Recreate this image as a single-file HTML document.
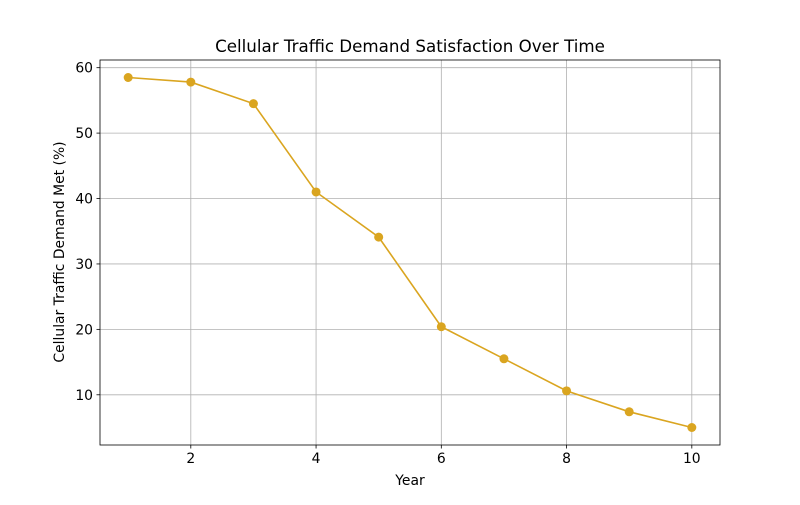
<!DOCTYPE html>
<html><head><meta charset="utf-8"><style>
body{margin:0;background:#fff;}
svg{font-family:"DejaVu Sans","Liberation Sans",sans-serif;}
</style></head><body>
<svg id="chart" width="800" height="500" xmlns="http://www.w3.org/2000/svg"></svg>
<script>
const years = [1,2,3,4,5,6,7,8,9,10];
const demandMet = [58.5,57.8,54.5,41.0,34.1,20.4,15.5,10.6,7.4,5.0];
const xTicks = [2,4,6,8,10];
const yTicks = [10,20,30,40,50,60];

const NS="http://www.w3.org/2000/svg";
const svg=document.getElementById('chart');
const L=100,R=720,T=60,B=445;
const xmin=Math.min(...years),xmax=Math.max(...years),xm=(xmax-xmin)*0.05;
const ymin=Math.min(...demandMet),ymax=Math.max(...demandMet),ym=(ymax-ymin)*0.05;
const x0=xmin-xm,x1=xmax+xm,y0=ymin-ym,y1=ymax+ym;
const sx=v=>L+(v-x0)/(x1-x0)*(R-L);
const sy=v=>B-(v-y0)/(y1-y0)*(B-T);
function el(tag,attrs,name,text){
  const e=document.createElementNS(NS,tag);
  for(const k in attrs)e.setAttribute(k,attrs[k]);
  
  
  if(text!==undefined)e.textContent=text;
  svg.appendChild(e);return e;
}
xTicks.forEach(t=>{
  const x=sx(t);
  el('line',{x1:x,x2:x,y1:T,y2:B,stroke:'#b0b0b0','stroke-width':0.8},'x-gridline');
  el('line',{x1:x,x2:x,y1:B,y2:B+3.5,stroke:'#000','stroke-width':0.8},'x-tick');
  el('text',{x:x,y:B+18,'text-anchor':'middle','font-size':13.9},'x-tick-label',t);
});
yTicks.forEach(t=>{
  const y=sy(t);
  el('line',{x1:L,x2:R,y1:y,y2:y,stroke:'#b0b0b0','stroke-width':0.8},'y-gridline');
  el('line',{x1:L-3.5,x2:L,y1:y,y2:y,stroke:'#000','stroke-width':0.8},'y-tick');
  el('text',{x:L-7,y:y+5,'text-anchor':'end','font-size':13.9},'y-tick-label',t);
});
el('polyline',{points:years.map((v,i)=>sx(v)+','+sy(demandMet[i])).join(' '),fill:'none',stroke:'#daa520','stroke-width':1.6},'series-line');
years.forEach((v,i)=>{
  el('circle',{cx:sx(v),cy:sy(demandMet[i]),r:4.5,fill:'#daa520'},'data-point');
});
el('rect',{x:L,y:T,width:R-L,height:B-T,fill:'none',stroke:'#000','stroke-width':0.8},'plot-frame');
el('text',{x:410,y:52,'text-anchor':'middle','font-size':16.7},'chart-title','Cellular Traffic Demand Satisfaction Over Time');
el('text',{x:410,y:485,'text-anchor':'middle','font-size':13.9},'x-axis-title','Year');
el('text',{x:64,y:252,'text-anchor':'middle','font-size':13.9,transform:'rotate(-90 64 252)'},'y-axis-title','Cellular Traffic Demand Met (%)');
</script>
</body></html>
